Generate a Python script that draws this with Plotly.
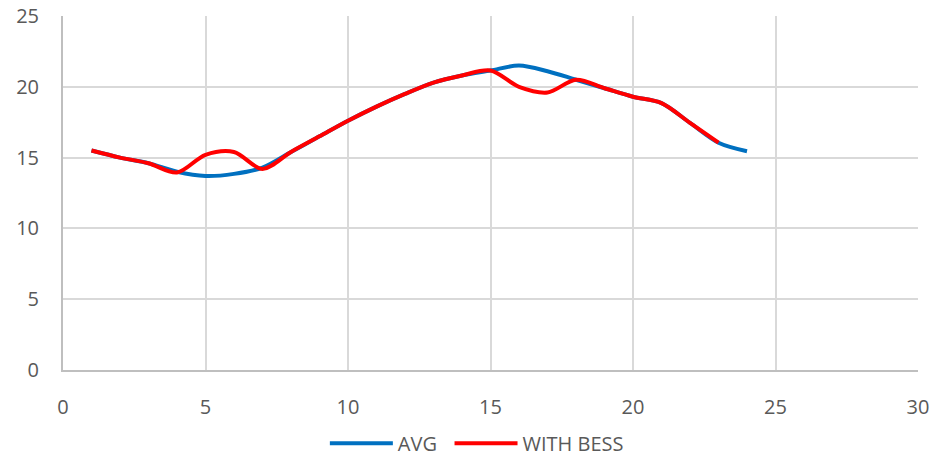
import plotly.graph_objects as go

hours = list(range(1, 25))
avg = [15.5, 15.0, 14.6, 14.0, 13.7, 13.85, 14.3, 15.4, 16.5, 17.6, 18.6, 19.5,
       20.3, 20.8, 21.15, 21.5, 21.1, 20.5, 19.9, 19.3, 18.85, 17.45, 16.05, 15.45]

hours_bess = list(range(1, 24))
with_bess = [15.5, 15.0, 14.6, 13.95, 15.2, 15.4, 14.2, 15.4, 16.5, 17.6, 18.6, 19.5,
             20.3, 20.8, 21.15, 20.0, 19.6, 20.5, 19.9, 19.3, 18.85, 17.45, 16.05]

x_ticks = [0, 5, 10, 15, 20, 25, 30]
y_ticks = [0, 5, 10, 15, 20, 25]

fig = go.Figure()
fig.add_trace(go.Scatter(x=hours, y=avg, name="AVG", mode="lines", legend="legend",
                         line=dict(color="#0070C0", width=4, shape="spline", smoothing=0.9)))
fig.add_trace(go.Scatter(x=hours_bess, y=with_bess, name="WITH BESS", mode="lines", legend="legend2",
                         line=dict(color="#FF0000", width=4, shape="spline", smoothing=0.9)))

text_font = dict(family="Open Sans, Liberation Sans, sans-serif", size=20, color="#595959")
legend_common = dict(orientation="h", xref="container", yref="container", xanchor="left",
                     y=0.03, yanchor="middle", font=text_font, itemwidth=63,
                     bgcolor="rgba(0,0,0,0)")

fig.update_layout(
    width=943, height=457,
    margin=dict(l=63, r=25, t=16, b=87),
    plot_bgcolor="white", paper_bgcolor="white",
    showlegend=True,
    legend=dict(x=0.3445, **legend_common),
    legend2=dict(x=0.4767, **legend_common),
    xaxis=dict(range=[0, 30], tickvals=x_ticks, showgrid=True, gridcolor="#D9D9D9", gridwidth=2,
               zeroline=False, showline=True, linecolor="#BFBFBF", linewidth=2,
               tickfont=text_font, ticks="", ticklabelstandoff=18, automargin=False),
    yaxis=dict(range=[0, 25], tickvals=y_ticks, showgrid=True, gridcolor="#D9D9D9", gridwidth=2,
               zeroline=False, showline=True, linecolor="#BFBFBF", linewidth=2,
               tickfont=text_font, ticks="", ticklabelstandoff=18, automargin=False),
)
fig.write_html("out.html")
